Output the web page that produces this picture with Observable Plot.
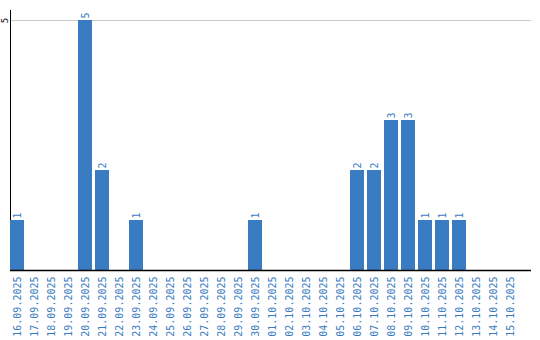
<!DOCTYPE html>
<html><head><meta charset="utf-8">
<script src="https://cdn.jsdelivr.net/npm/d3@7"></script>
<script src="https://cdn.jsdelivr.net/npm/@observablehq/plot@0.6"></script>
<style>body{margin:0;background:#fff}</style>
</head><body><div id="chart"></div>
<script>
const dates = ["16.09.2025","17.09.2025","18.09.2025","19.09.2025","20.09.2025","21.09.2025","22.09.2025","23.09.2025","24.09.2025","25.09.2025","26.09.2025","27.09.2025","28.09.2025","29.09.2025","30.09.2025","01.10.2025","02.10.2025","03.10.2025","04.10.2025","05.10.2025","06.10.2025","07.10.2025","08.10.2025","09.10.2025","10.10.2025","11.10.2025","12.10.2025","13.10.2025","14.10.2025","15.10.2025"];
const counts = [1,0,0,0,5,2,0,1,0,0,0,0,0,0,1,0,0,0,0,0,2,2,3,3,1,1,1,0,0,0];
const yTicks = [5];
const data = dates.map((d,i)=>({date:d, count:counts[i]}));
const blue = "#3a7cc2";
const mono = "DejaVu Sans Mono";
const chart = Plot.plot({
  width: 540, height: 340,
  marginLeft: 10, marginRight: 9, marginTop: 10, marginBottom: 70,
  style: {fontFamily: mono, background: "#fff"},
  x: {domain: dates, range: [10, 517], paddingInner: 3/17, paddingOuter: 0, align: 0},
  y: {domain: [0, 5.2]},
  marks: [
    Plot.ruleY(yTicks, {stroke: "#cccccc", strokeWidth: 1, strokeOpacity: 1}),
    Plot.frame({anchor: "left", stroke: "#000", strokeWidth: 1}),
    Plot.barY(data, {x: "date", y: "count", fill: blue}),
    Plot.text(data.filter(d=>d.count>0), {x: "date", y: "count", text: d=>String(d.count), rotate: -90, textAnchor: "start", lineAnchor: "middle", dy: -2, fill: blue, fontSize: 10, fontFamily: mono}),
    Plot.axisX({tickRotate: -90, tickSize: 0, tickPadding: 6, fill: blue, fontSize: 10, fontFamily: mono, label: null}),
    Plot.axisY({ticks: yTicks, tickFormat: d3.format("d"), tickRotate: -90, tickSize: 0, tickPadding: 0, fontSize: 9, fontFamily: mono, label: null, fill: "#000", lineAnchor: "middle", dx: -5}),
    Plot.ruleY([0], {stroke: "#000", strokeWidth: 1.5})
  ]
});
document.getElementById("chart").appendChild(chart);
</script></body></html>
